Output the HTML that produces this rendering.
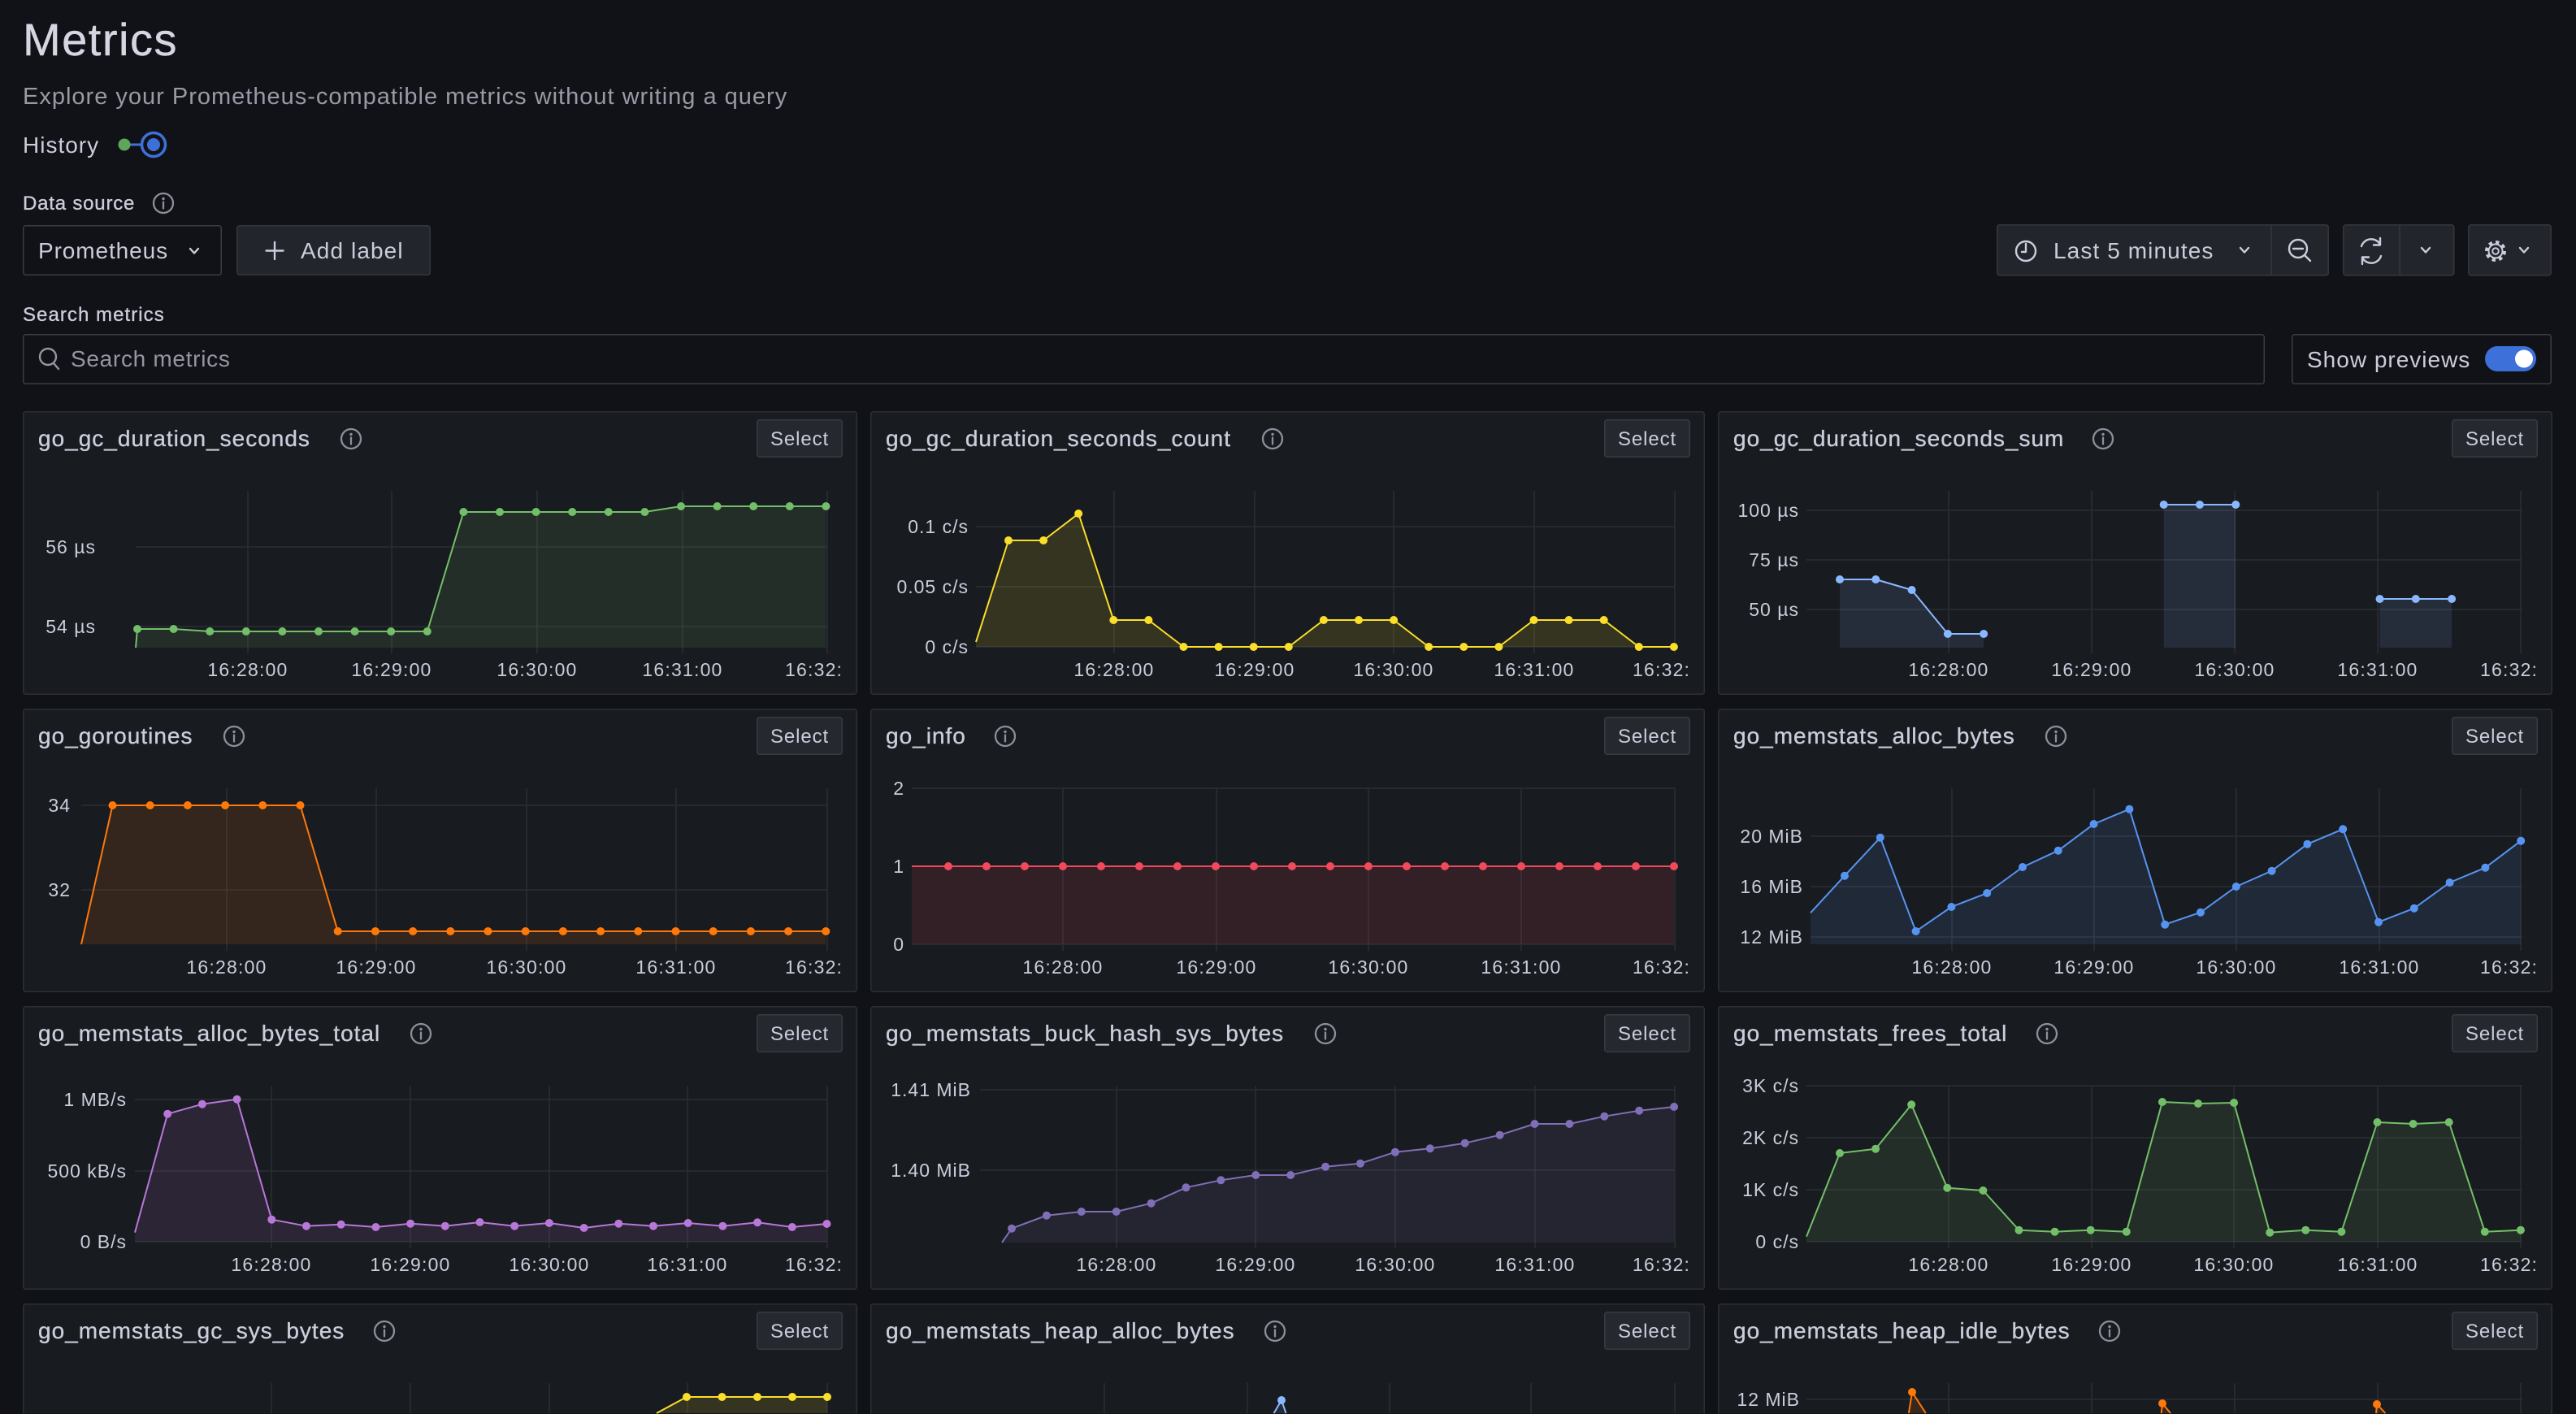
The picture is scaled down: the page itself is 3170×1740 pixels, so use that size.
<!DOCTYPE html>
<html><head><meta charset="utf-8"><title>Metrics</title>
<style>
html,body{margin:0;padding:0;background:#111217;width:3170px;height:1740px;overflow:hidden}
svg{display:block}
text{font-family:"Liberation Sans",Arial,sans-serif}
.t{font-size:28px;fill:#ccccdc;letter-spacing:1px;stroke:#ccccdc;stroke-width:0.35px}
.ax{font-size:23px;fill:#ccccdc;letter-spacing:1.2px;text-anchor:middle}
.ax2{font-size:23px;fill:#ccccdc;letter-spacing:1.2px}
.yl{font-size:23px;fill:#ccccdc;letter-spacing:1px;text-anchor:end}
.sb{font-size:24px;fill:#ccccdc;letter-spacing:0.9px;text-anchor:middle}
.gr{stroke:#2b2e34;stroke-width:1.5;fill:none}
.ln{fill:none;stroke-width:2;stroke-linejoin:round}
.ic{fill:none;stroke:#ccccdc;stroke-width:2.4;stroke-linecap:round;stroke-linejoin:round}
</style></head><body>
<svg width="3170" height="1740" viewBox="0 0 3170 1740" xmlns="http://www.w3.org/2000/svg">
<defs>
<marker id="mG" markerWidth="12" markerHeight="12" refX="6" refY="6" markerUnits="userSpaceOnUse"><circle cx="6" cy="6" r="5" fill="#73bf69"/></marker>
<marker id="mY" markerWidth="12" markerHeight="12" refX="6" refY="6" markerUnits="userSpaceOnUse"><circle cx="6" cy="6" r="5" fill="#fade2a"/></marker>
<marker id="mLB" markerWidth="12" markerHeight="12" refX="6" refY="6" markerUnits="userSpaceOnUse"><circle cx="6" cy="6" r="5" fill="#8ab8ff"/></marker>
<marker id="mO" markerWidth="12" markerHeight="12" refX="6" refY="6" markerUnits="userSpaceOnUse"><circle cx="6" cy="6" r="5" fill="#ff780a"/></marker>
<marker id="mR" markerWidth="12" markerHeight="12" refX="6" refY="6" markerUnits="userSpaceOnUse"><circle cx="6" cy="6" r="5" fill="#f2495c"/></marker>
<marker id="mB" markerWidth="12" markerHeight="12" refX="6" refY="6" markerUnits="userSpaceOnUse"><circle cx="6" cy="6" r="5" fill="#5794f2"/></marker>
<marker id="mP" markerWidth="12" markerHeight="12" refX="6" refY="6" markerUnits="userSpaceOnUse"><circle cx="6" cy="6" r="5" fill="#b877d9"/></marker>
<marker id="mDP" markerWidth="12" markerHeight="12" refX="6" refY="6" markerUnits="userSpaceOnUse"><circle cx="6" cy="6" r="5" fill="#806eb7"/></marker>
<g id="info"><circle cx="0" cy="0" r="12" fill="none" stroke="#8e8e9c" stroke-width="2.3"/><circle cx="0" cy="-5.5" r="1.7" fill="#8e8e9c"/><line x1="0" y1="-1.5" x2="0" y2="6.5" stroke="#8e8e9c" stroke-width="2.3" stroke-linecap="round"/></g>
<g id="frame"><rect x="0.75" y="0.75" width="1025.5" height="347.5" rx="3" fill="#181b1f" stroke="#2c2f35" stroke-width="1.5"/><rect x="903.75" y="10.75" width="104.5" height="45.5" rx="3" fill="#25282e" stroke="#383b42" stroke-width="1.5"/></g>
<g id="frame4"><path d="M0.75 135.5 V3.75 A3 3 0 0 1 3.75 0.75 H1023.25 A3 3 0 0 1 1026.25 3.75 V135.5" fill="#181b1f" stroke="#2c2f35" stroke-width="1.5"/><rect x="903.75" y="10.75" width="104.5" height="45.5" rx="3" fill="#25282e" stroke="#383b42" stroke-width="1.5"/></g>
</defs>

<rect x="0" y="0" width="3170" height="1740" fill="#111217"/>

<!-- Header -->
<text x="28" y="68" font-size="56" fill="#d6d6e2" letter-spacing="1.5" stroke="#d6d6e2" stroke-width="0.4">Metrics</text>
<text x="28" y="128" font-size="29" fill="#9a9aa7" letter-spacing="1.0">Explore your Prometheus-compatible metrics without writing a query</text>
<text x="28" y="188" font-size="28" fill="#ccccdc" letter-spacing="1">History</text>
<line x1="153" y1="178" x2="175" y2="178" stroke="#3d71d9" stroke-width="3"/>
<circle cx="153" cy="178" r="7.5" fill="#5ea75a"/>
<circle cx="189" cy="178" r="14.5" fill="none" stroke="#3d71d9" stroke-width="3.5"/>
<circle cx="189" cy="178" r="8" fill="#3d71d9"/>

<text x="28" y="258" font-size="24" fill="#ccccdc" letter-spacing="0.8" stroke="#ccccdc" stroke-width="0.35">Data source</text>
<use href="#info" x="201" y="250"/>

<rect x="28.75" y="277.75" width="243.5" height="60.5" rx="3" fill="none" stroke="#3a3c42" stroke-width="1.5"/>
<text x="47" y="318" font-size="28" fill="#ccccdc" letter-spacing="0.9">Prometheus</text>
<path class="ic" d="M234 306 L239 311.5 L244 306" stroke-width="2"/>

<rect x="291.75" y="277.75" width="237.5" height="60.5" rx="3" fill="#22252b" stroke="#34363c" stroke-width="1.5"/>
<path class="ic" d="M338 298 V319 M327.5 308.5 H348.5" stroke-width="2.4"/>
<text x="370" y="318" font-size="28" fill="#ccccdc" letter-spacing="1.1">Add label</text>

<text x="28" y="395" font-size="24" fill="#ccccdc" letter-spacing="1.05" stroke="#ccccdc" stroke-width="0.35">Search metrics</text>
<rect x="28.75" y="411.75" width="2757.5" height="60.5" rx="3" fill="none" stroke="#3a3c42" stroke-width="1.5"/>
<circle cx="59" cy="439" r="10" fill="none" stroke="#9696a3" stroke-width="2.4"/>
<line x1="66" y1="447" x2="72" y2="454" stroke="#9696a3" stroke-width="2.4" stroke-linecap="round"/>
<text x="87" y="451" font-size="28" fill="#9696a3" letter-spacing="0.7">Search metrics</text>

<!-- Time picker -->
<rect x="2457.75" y="276.75" width="407.5" height="62" rx="3" fill="#22252b" stroke="#34363c" stroke-width="1.5"/>
<line x1="2795" y1="277" x2="2795" y2="338.5" stroke="#34363c" stroke-width="1.5"/>
<circle cx="2493" cy="309" r="12" class="ic"/>
<path class="ic" d="M2493 300 V310 H2488" stroke-width="2.2"/>
<text x="2527" y="318" font-size="28" fill="#ccccdc" letter-spacing="1.1">Last 5 minutes</text>
<path class="ic" d="M2757 305 L2762 310.5 L2767 305" stroke-width="2"/>
<circle cx="2828" cy="306" r="11" class="ic"/>
<path class="ic" d="M2822 306 H2834 M2836 314 L2843 321"/>

<rect x="2883.75" y="276.75" width="136" height="62" rx="3" fill="#22252b" stroke="#34363c" stroke-width="1.5"/>
<line x1="2953" y1="277" x2="2953" y2="338.5" stroke="#34363c" stroke-width="1.5"/>
<path class="ic" d="M2906 303 A12.5 12.5 0 0 1 2929 301 M2929 293 V301.5 H2921 M2930 315 A12.5 12.5 0 0 1 2907 317 M2907 325 V316.5 H2915" stroke-width="2.2"/>
<path class="ic" d="M2980 305 L2985 310.5 L2990 305" stroke-width="2"/>

<rect x="3037.75" y="276.75" width="101.5" height="62" rx="3" fill="#22252b" stroke="#34363c" stroke-width="1.5"/>
<circle cx="3071" cy="309" r="11" fill="none" stroke="#ccccdc" stroke-width="4" stroke-dasharray="4.3 4.3"/>
<circle cx="3071" cy="309" r="8.5" fill="none" stroke="#ccccdc" stroke-width="2"/>
<circle cx="3071" cy="309" r="3.8" fill="none" stroke="#ccccdc" stroke-width="2"/>
<path class="ic" d="M3101 305 L3106 310.5 L3111 305" stroke-width="2"/>

<!-- Show previews -->
<rect x="2820.75" y="411.75" width="318.5" height="60.5" rx="3" fill="none" stroke="#3a3c42" stroke-width="1.5"/>
<text x="2839" y="452" font-size="28" fill="#ccccdc" letter-spacing="1">Show previews</text>
<rect x="3058" y="426" width="63" height="31" rx="15.5" fill="#3d71d9"/>
<circle cx="3106" cy="441.5" r="11" fill="#ffffff"/>

<!-- ROW 1 -->
<g transform="translate(28,506)">
<use href="#frame"/>
<text class="t" x="19" y="43">go_gc_duration_seconds</text>
<use href="#info" x="404" y="34"/>
<text class="sb" x="956" y="42">Select</text>
<path class="gr" d="M277 98V298M454 98V298M633 98V298M812 98V298M990 98V298M139 167H990M139 265H990"/>
<polygon fill="#73bf69" fill-opacity="0.12" points="139,291 141,268 185.6,268 230.2,271 274.8,271 319.4,271 364,271 408.6,271 453.2,271 497.8,271 542.4,124 587,124 631.6,124 676.2,124 720.8,124 765.4,124 810,117 854.6,117 899.2,117 943.8,117 988.4,117 988.4,291"/>
<polyline class="ln" stroke="#73bf69" points="139,291 141,268"/>
<polyline class="ln" stroke="#73bf69" marker-start="url(#mG)" marker-mid="url(#mG)" marker-end="url(#mG)" points="141,268 185.6,268 230.2,271 274.8,271 319.4,271 364,271 408.6,271 453.2,271 497.8,271 542.4,124 587,124 631.6,124 676.2,124 720.8,124 765.4,124 810,117 854.6,117 899.2,117 943.8,117 988.4,117"/>
<text class="yl" x="90" y="175">56 µs</text>
<text class="yl" x="90" y="273">54 µs</text>
<text class="ax" x="277" y="326">16:28:00</text>
<text class="ax" x="454" y="326">16:29:00</text>
<text class="ax" x="633" y="326">16:30:00</text>
<text class="ax" x="812" y="326">16:31:00</text>
<text class="ax2" x="938" y="326">16:32:</text>
</g>

<g transform="translate(1071,506)">
<use href="#frame"/>
<text class="t" x="19" y="43">go_gc_duration_seconds_count</text>
<use href="#info" x="495" y="34"/>
<text class="sb" x="956" y="42">Select</text>
<path class="gr" d="M300 98V298M473 98V298M644 98V298M817 98V298M990 98V298M130 142H990M130 216H990M130 290H990"/>
<polygon fill="#fade2a" fill-opacity="0.13" points="130,290 130,284 170,159 213.1,159 256.2,126 299.3,257 342.4,257 385.5,290 428.6,290 471.7,290 514.8,290 557.9,257 601,257 644.1,257 687.2,290 730.3,290 773.4,290 816.5,257 859.6,257 902.7,257 945.8,290 988.9,290"/>
<polyline class="ln" stroke="#fade2a" points="130,284 170,159"/>
<polyline class="ln" stroke="#fade2a" marker-start="url(#mY)" marker-mid="url(#mY)" marker-end="url(#mY)" points="170,159 213.1,159 256.2,126 299.3,257 342.4,257 385.5,290 428.6,290 471.7,290 514.8,290 557.9,257 601,257 644.1,257 687.2,290 730.3,290 773.4,290 816.5,257 859.6,257 902.7,257 945.8,290 988.9,290"/>
<text class="yl" x="121" y="150">0.1 c/s</text>
<text class="yl" x="121" y="224">0.05 c/s</text>
<text class="yl" x="121" y="298">0 c/s</text>
<text class="ax" x="300" y="326">16:28:00</text>
<text class="ax" x="473" y="326">16:29:00</text>
<text class="ax" x="644" y="326">16:30:00</text>
<text class="ax" x="817" y="326">16:31:00</text>
<text class="ax2" x="938" y="326">16:32:</text>
</g>

<g transform="translate(2114,506)">
<use href="#frame"/>
<text class="t" x="19" y="43">go_gc_duration_seconds_sum</text>
<use href="#info" x="474" y="34"/>
<text class="sb" x="956" y="42">Select</text>
<path class="gr" d="M284 98V298M460 98V298M636 98V298M812 98V298M988 98V298M109 122H990M109 183H990M109 244H990"/>
<polygon fill="#8ab8ff" fill-opacity="0.12" points="150,291 150,207 194.3,207 238.6,220 282.9,274 327.2,274 327.2,291"/>
<polygon fill="#8ab8ff" fill-opacity="0.12" points="548.7,291 548.7,115 593,115 637.3,115 637.3,291"/>
<polygon fill="#8ab8ff" fill-opacity="0.12" points="814.5,291 814.5,231 858.8,231 903.1,231 903.1,291"/>
<polyline class="ln" stroke="#8ab8ff" marker-start="url(#mLB)" marker-mid="url(#mLB)" marker-end="url(#mLB)" points="150,207 194.3,207 238.6,220 282.9,274 327.2,274"/>
<polyline class="ln" stroke="#8ab8ff" marker-start="url(#mLB)" marker-mid="url(#mLB)" marker-end="url(#mLB)" points="548.7,115 593,115 637.3,115"/>
<polyline class="ln" stroke="#8ab8ff" marker-start="url(#mLB)" marker-mid="url(#mLB)" marker-end="url(#mLB)" points="814.5,231 858.8,231 903.1,231"/>
<text class="yl" x="100" y="130">100 µs</text>
<text class="yl" x="100" y="191">75 µs</text>
<text class="yl" x="100" y="252">50 µs</text>
<text class="ax" x="284" y="326">16:28:00</text>
<text class="ax" x="460" y="326">16:29:00</text>
<text class="ax" x="636" y="326">16:30:00</text>
<text class="ax" x="812" y="326">16:31:00</text>
<text class="ax2" x="938" y="326">16:32:</text>
</g>

<!-- ROW 2 -->
<g transform="translate(28,872)">
<use href="#frame"/>
<text class="t" x="19" y="43">go_goroutines</text>
<use href="#info" x="260" y="34"/>
<text class="sb" x="956" y="42">Select</text>
<path class="gr" d="M251 98V298M435 98V298M620 98V298M804 98V298M990 98V298M72 119H990M72 223H990"/>
<polygon fill="#ff780a" fill-opacity="0.12" points="72,290 110.5,119 156.7,119 202.9,119 249.1,119 295.3,119 341.5,119 387.7,274 433.9,274 480.1,274 526.3,274 572.5,274 618.7,274 664.9,274 711.1,274 757.3,274 803.5,274 849.7,274 895.9,274 942.1,274 988.3,274 988.3,290"/>
<polyline class="ln" stroke="#ff780a" points="72,290 110.5,119"/>
<polyline class="ln" stroke="#ff780a" marker-start="url(#mO)" marker-mid="url(#mO)" marker-end="url(#mO)" points="110.5,119 156.7,119 202.9,119 249.1,119 295.3,119 341.5,119 387.7,274 433.9,274 480.1,274 526.3,274 572.5,274 618.7,274 664.9,274 711.1,274 757.3,274 803.5,274 849.7,274 895.9,274 942.1,274 988.3,274"/>
<text class="yl" x="59" y="127">34</text>
<text class="yl" x="59" y="231">32</text>
<text class="ax" x="251" y="326">16:28:00</text>
<text class="ax" x="435" y="326">16:29:00</text>
<text class="ax" x="620" y="326">16:30:00</text>
<text class="ax" x="804" y="326">16:31:00</text>
<text class="ax2" x="938" y="326">16:32:</text>
</g>

<g transform="translate(1071,872)">
<use href="#frame"/>
<text class="t" x="19" y="43">go_info</text>
<use href="#info" x="166" y="34"/>
<text class="sb" x="956" y="42">Select</text>
<path class="gr" d="M237 98V298M426 98V298M613 98V298M801 98V298M990 98V298M51 98H990M51 194H990M51 290H990"/>
<polygon fill="#f2495c" fill-opacity="0.12" points="51,290 51,194 989,194 989,290"/>
<polyline class="ln" stroke="#f2495c" points="51,194 96,194"/>
<polyline class="ln" stroke="#f2495c" marker-start="url(#mR)" marker-mid="url(#mR)" marker-end="url(#mR)" points="96,194 143,194 190,194 237,194 284,194 331,194 378,194 425,194 472,194 519,194 566,194 613,194 660,194 707,194 754,194 801,194 848,194 895,194 942,194 989,194"/>
<text class="yl" x="42" y="106">2</text>
<text class="yl" x="42" y="202">1</text>
<text class="yl" x="42" y="298">0</text>
<text class="ax" x="237" y="326">16:28:00</text>
<text class="ax" x="426" y="326">16:29:00</text>
<text class="ax" x="613" y="326">16:30:00</text>
<text class="ax" x="801" y="326">16:31:00</text>
<text class="ax2" x="938" y="326">16:32:</text>
</g>

<g transform="translate(2114,872)">
<use href="#frame"/>
<text class="t" x="19" y="43">go_memstats_alloc_bytes</text>
<use href="#info" x="416" y="34"/>
<text class="sb" x="956" y="42">Select</text>
<path class="gr" d="M288 98V298M463 98V298M638 98V298M814 98V298M988 98V298M114 157H990M114 219H990M114 281H990"/>
<polygon fill="#5794f2" fill-opacity="0.12" points="114,290 114,251.3 156,205.7 199.8,158.7 243.6,274 287.4,244 331.2,227 375,195 418.8,174.7 462.6,142 506.4,123.7 550.2,265.7 594,250.7 637.8,219 681.6,199.7 725.4,166.7 769.2,148.3 813,262.7 856.8,245.7 900.6,214 944.4,195.7 988.2,162.7 988.2,290"/>
<polyline class="ln" stroke="#5794f2" points="114,251.3 156,205.7"/>
<polyline class="ln" stroke="#5794f2" marker-start="url(#mB)" marker-mid="url(#mB)" marker-end="url(#mB)" points="156,205.7 199.8,158.7 243.6,274 287.4,244 331.2,227 375,195 418.8,174.7 462.6,142 506.4,123.7 550.2,265.7 594,250.7 637.8,219 681.6,199.7 725.4,166.7 769.2,148.3 813,262.7 856.8,245.7 900.6,214 944.4,195.7 988.2,162.7"/>
<text class="yl" x="105" y="165">20 MiB</text>
<text class="yl" x="105" y="227">16 MiB</text>
<text class="yl" x="105" y="289">12 MiB</text>
<text class="ax" x="288" y="326">16:28:00</text>
<text class="ax" x="463" y="326">16:29:00</text>
<text class="ax" x="638" y="326">16:30:00</text>
<text class="ax" x="814" y="326">16:31:00</text>
<text class="ax2" x="938" y="326">16:32:</text>
</g>

<!-- ROW 3 -->
<g transform="translate(28,1238)">
<use href="#frame"/>
<text class="t" x="19" y="43">go_memstats_alloc_bytes_total</text>
<use href="#info" x="490" y="34"/>
<text class="sb" x="956" y="42">Select</text>
<path class="gr" d="M306 98V298M477 98V298M648 98V298M818 98V298M990 98V298M138 115H990M138 203H990M138 290H990"/>
<polygon fill="#b877d9" fill-opacity="0.12" points="138,290 138,278.7 178.2,132.7 220.9,120.7 263.6,114.7 306.3,262.7 349,270.7 391.7,268.7 434.4,272 477.1,267.7 519.8,270.7 562.5,266 605.2,270.7 647.9,267 690.6,273 733.3,267.7 776,270.7 818.7,267 861.4,270.7 904.1,266.3 946.8,272 989.5,268 989.5,290"/>
<polyline class="ln" stroke="#b877d9" points="138,278.7 178.2,132.7"/>
<polyline class="ln" stroke="#b877d9" marker-start="url(#mP)" marker-mid="url(#mP)" marker-end="url(#mP)" points="178.2,132.7 220.9,120.7 263.6,114.7 306.3,262.7 349,270.7 391.7,268.7 434.4,272 477.1,267.7 519.8,270.7 562.5,266 605.2,270.7 647.9,267 690.6,273 733.3,267.7 776,270.7 818.7,267 861.4,270.7 904.1,266.3 946.8,272 989.5,268"/>
<text class="yl" x="128" y="123">1 MB/s</text>
<text class="yl" x="128" y="211">500 kB/s</text>
<text class="yl" x="128" y="298">0 B/s</text>
<text class="ax" x="306" y="326">16:28:00</text>
<text class="ax" x="477" y="326">16:29:00</text>
<text class="ax" x="648" y="326">16:30:00</text>
<text class="ax" x="818" y="326">16:31:00</text>
<text class="ax2" x="938" y="326">16:32:</text>
</g>

<g transform="translate(1071,1238)">
<use href="#frame"/>
<text class="t" x="19" y="43">go_memstats_buck_hash_sys_bytes</text>
<use href="#info" x="560" y="34"/>
<text class="sb" x="956" y="42">Select</text>
<path class="gr" d="M303 98V298M474 98V298M646 98V298M818 98V298M990 98V298M135 103H990M135 202H990"/>
<polygon fill="#806eb7" fill-opacity="0.12" points="162,291 174,273.7 216.9,257.7 259.8,253 302.7,253 345.6,242.7 388.5,223.3 431.4,214.3 474.3,208 517.2,208 560.1,197.7 603,193.7 645.9,179.7 688.8,175.3 731.7,168.7 774.6,158.7 817.5,145 860.4,145 903.3,135.7 946.2,128.7 989.1,124 989.1,291"/>
<polyline class="ln" stroke="#806eb7" points="162,291 174,273.7"/>
<polyline class="ln" stroke="#806eb7" marker-start="url(#mDP)" marker-mid="url(#mDP)" marker-end="url(#mDP)" points="174,273.7 216.9,257.7 259.8,253 302.7,253 345.6,242.7 388.5,223.3 431.4,214.3 474.3,208 517.2,208 560.1,197.7 603,193.7 645.9,179.7 688.8,175.3 731.7,168.7 774.6,158.7 817.5,145 860.4,145 903.3,135.7 946.2,128.7 989.1,124"/>
<text class="yl" x="124" y="111">1.41 MiB</text>
<text class="yl" x="124" y="210">1.40 MiB</text>
<text class="ax" x="303" y="326">16:28:00</text>
<text class="ax" x="474" y="326">16:29:00</text>
<text class="ax" x="646" y="326">16:30:00</text>
<text class="ax" x="818" y="326">16:31:00</text>
<text class="ax2" x="938" y="326">16:32:</text>
</g>

<g transform="translate(2114,1238)">
<use href="#frame"/>
<text class="t" x="19" y="43">go_memstats_frees_total</text>
<use href="#info" x="405" y="34"/>
<text class="sb" x="956" y="42">Select</text>
<path class="gr" d="M284 98V298M460 98V298M635 98V298M812 98V298M988 98V298M109 98H990M109 162H990M109 226H990M109 290H990"/>
<polygon fill="#73bf69" fill-opacity="0.12" points="109,290 109,283.7 150,181 194.1,175.7 238.2,121.3 282.3,223.7 326.4,227 370.5,275.7 414.6,277.7 458.7,275.7 502.8,277.7 546.9,118 591,120 635.1,119 679.2,278.7 723.3,275.7 767.4,277.7 811.5,143 855.6,145 899.7,143 943.8,277.7 987.9,275.7 987.9,290"/>
<polyline class="ln" stroke="#73bf69" points="109,283.7 150,181"/>
<polyline class="ln" stroke="#73bf69" marker-start="url(#mG)" marker-mid="url(#mG)" marker-end="url(#mG)" points="150,181 194.1,175.7 238.2,121.3 282.3,223.7 326.4,227 370.5,275.7 414.6,277.7 458.7,275.7 502.8,277.7 546.9,118 591,120 635.1,119 679.2,278.7 723.3,275.7 767.4,277.7 811.5,143 855.6,145 899.7,143 943.8,277.7 987.9,275.7"/>
<text class="yl" x="100" y="106">3K c/s</text>
<text class="yl" x="100" y="170">2K c/s</text>
<text class="yl" x="100" y="234">1K c/s</text>
<text class="yl" x="100" y="298">0 c/s</text>
<text class="ax" x="284" y="326">16:28:00</text>
<text class="ax" x="460" y="326">16:29:00</text>
<text class="ax" x="635" y="326">16:30:00</text>
<text class="ax" x="812" y="326">16:31:00</text>
<text class="ax2" x="938" y="326">16:32:</text>
</g>

<!-- ROW 4 (cut at frame bottom) -->
<g transform="translate(28,1604)">
<use href="#frame4"/>
<text class="t" x="19" y="43">go_memstats_gc_sys_bytes</text>
<use href="#info" x="445" y="34"/>
<text class="sb" x="956" y="42">Select</text>
<path class="gr" d="M306 98V135M477 98V135M648 98V135M818 98V135M990 98V135"/>
<polygon fill="#fade2a" fill-opacity="0.13" points="780,135 817,115 860.5,115 904,115 947,115 990,115 990,135"/>
<polyline class="ln" stroke="#fade2a" points="780,135 817,115"/>
<polyline class="ln" stroke="#fade2a" marker-start="url(#mY)" marker-mid="url(#mY)" marker-end="url(#mY)" points="817,115 860.5,115 904,115 947,115 990,115"/>
</g>

<g transform="translate(1071,1604)">
<use href="#frame4"/>
<text class="t" x="19" y="43">go_memstats_heap_alloc_bytes</text>
<use href="#info" x="498" y="34"/>
<text class="sb" x="956" y="42">Select</text>
<path class="gr" d="M288 98V135M464 98V135M639 98V135M813 98V135M990 98V135"/>
<polygon fill="#8ab8ff" fill-opacity="0.12" points="496.6,135 506,119 511.5,135"/>
<polyline class="ln" stroke="#8ab8ff" points="496.6,135 506,119 511.5,135"/>
<circle cx="506" cy="119" r="5" fill="#8ab8ff"/>
</g>

<g transform="translate(2114,1604)">
<use href="#frame4"/>
<text class="t" x="19" y="43">go_memstats_heap_idle_bytes</text>
<use href="#info" x="482" y="34"/>
<text class="sb" x="956" y="42">Select</text>
<path class="gr" d="M284 98V135M460 98V135M636 98V135M812 98V135M988 98V135M109 118H990"/>
<text class="yl" x="101" y="126">12 MiB</text>
<polygon fill="#ff780a" fill-opacity="0.14" points="234.9,135 239,109 255.8,135"/>
<polygon fill="#ff780a" fill-opacity="0.14" points="545.7,135 547,123 557,135"/>
<polygon fill="#ff780a" fill-opacity="0.14" points="810,135 811,124 821.4,135"/>
<polyline class="ln" stroke="#ff780a" points="234.9,135 239,109 255.8,135"/>
<polyline class="ln" stroke="#ff780a" points="545.7,135 547,123 557,135"/>
<polyline class="ln" stroke="#ff780a" points="810,135 811,124 821.4,135"/>
<circle cx="239" cy="109" r="5" fill="#ff780a"/>
<circle cx="547" cy="123" r="5" fill="#ff780a"/>
<circle cx="811" cy="124" r="5" fill="#ff780a"/>
</g>
</svg>
</body></html>
